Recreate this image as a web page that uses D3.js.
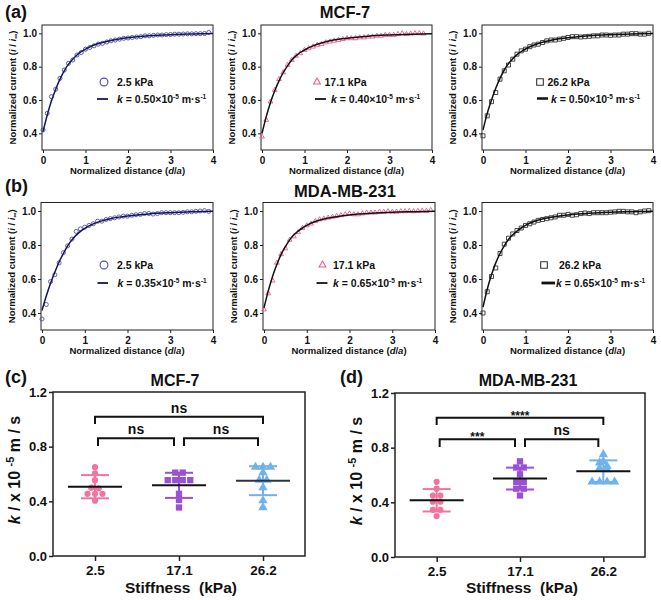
<!DOCTYPE html>
<html><head><meta charset="utf-8">
<script src="https://cdn.jsdelivr.net/npm/d3@7"></script>
<style>body{margin:0;background:#fff}svg{display:block}</style>
</head><body><svg width="661" height="600"></svg>
<script>
// ---------------- DATA ----------------
const distances = [0,0.1,0.2,0.3,0.4,0.5,0.6,0.7,0.8,0.9,1.0,1.1,1.2,1.3,1.4,1.5,1.6,1.7,1.8,1.9,2.0,2.1,2.2,2.3,2.4,2.5,2.6,2.7,2.8,2.9,3.0,3.1,3.2,3.3,3.4,3.5,3.6,3.7,3.8,3.9];
const fitDistances = [0,0.1,0.2,0.3,0.4,0.5,0.6,0.7,0.8,0.9,1.0,1.2,1.4,1.6,1.8,2.0,2.5,3.0,3.5,4.0];

const mcf7_2_5 = [0.42,0.52,0.62,0.665,0.73,0.78,0.82,0.84,0.87,0.885,0.905,0.915,0.925,0.935,0.94,0.948,0.955,0.96,0.965,0.97,0.972,0.975,0.978,0.98,0.985,0.985,0.988,0.99,0.99,0.992,0.993,0.995,0.995,0.996,0.997,0.997,0.998,0.998,0.999,1.005];
const mcf7_17_1 = [0.38,0.48,0.59,0.66,0.725,0.765,0.81,0.84,0.865,0.88,0.9,0.91,0.92,0.93,0.935,0.945,0.95,0.955,0.96,0.965,0.97,0.97,0.97,0.975,0.975,0.98,0.98,0.985,0.985,0.99,0.99,0.99,0.995,1.0,0.995,0.998,1.0,1.0,0.998];
const mcf7_26_2 = [0.385,0.505,0.59,0.645,0.725,0.775,0.81,0.845,0.875,0.895,0.905,0.92,0.93,0.935,0.945,0.955,0.96,0.96,0.965,0.97,0.975,0.98,0.98,0.978,0.98,0.982,0.985,0.985,0.99,0.99,0.988,0.99,0.99,0.995,0.995,0.998,0.998,0.995,0.995,1.0];
const mda_2_5 = [0.365,0.45,0.585,0.625,0.695,0.755,0.795,0.835,0.88,0.895,0.905,0.915,0.925,0.94,0.94,0.95,0.955,0.96,0.965,0.97,0.97,0.975,0.978,0.98,0.985,0.985,0.982,0.985,0.99,0.99,0.99,0.99,0.99,0.992,0.995,0.995,0.998,1.0,1.002,0.998];
const mda_17_1 = [0.42,0.515,0.59,0.695,0.745,0.78,0.83,0.85,0.875,0.9,0.915,0.925,0.94,0.95,0.955,0.96,0.965,0.97,0.975,0.98,0.985,0.98,0.98,0.985,0.99,0.99,0.99,0.995,0.995,0.998,0.995,0.995,0.998,0.998,1.0,0.998,1.0,1.002,1.0,1.005];
const mda_26_2 = [0.40,0.525,0.615,0.665,0.75,0.805,0.84,0.865,0.885,0.9,0.915,0.925,0.935,0.945,0.95,0.955,0.96,0.965,0.975,0.975,0.98,0.975,0.978,0.985,0.988,0.985,0.99,0.99,0.99,0.99,0.993,0.995,0.998,0.998,0.995,0.995,0.99,0.995,1.0,1.002];

const fit_mcf7_2_5 = [0.41,0.51,0.595,0.665,0.725,0.775,0.815,0.845,0.87,0.89,0.905,0.93,0.945,0.957,0.966,0.973,0.985,0.992,0.996,0.999];
const fit_mcf7_17_1 = [0.40,0.50,0.585,0.655,0.715,0.765,0.805,0.84,0.865,0.885,0.90,0.925,0.942,0.955,0.964,0.971,0.983,0.99,0.995,0.998];
const fit_mcf7_26_2 = [0.42,0.52,0.60,0.67,0.73,0.78,0.818,0.848,0.872,0.891,0.906,0.93,0.946,0.958,0.967,0.974,0.986,0.992,0.996,0.999];
const fit_mda_2_5 = [0.415,0.50,0.575,0.64,0.70,0.75,0.795,0.83,0.858,0.88,0.898,0.924,0.942,0.955,0.964,0.971,0.983,0.99,0.995,0.998];
const fit_mda_17_1 = [0.43,0.53,0.615,0.685,0.745,0.79,0.83,0.86,0.882,0.9,0.915,0.938,0.953,0.963,0.971,0.977,0.987,0.993,0.996,0.999];
const fit_mda_26_2 = [0.435,0.54,0.625,0.695,0.75,0.795,0.832,0.86,0.882,0.9,0.915,0.938,0.953,0.963,0.971,0.977,0.987,0.993,0.996,0.999];

const stiffnessLabels = ["2.5","17.1","26.2"];
const kValuesMCF7 = ["0.50","0.40","0.50"];
const kValuesMDA = ["0.35","0.65","0.65"];
const curveTicksY = [0.4,0.6,0.8,1.0];
const curveTicksX = [0,1,2,3,4];
const rateTicks = [0.0,0.4,0.8,1.2];

// panel (c) MCF-7 rate constants
const mcf7Rates = [
  [0.65,0.605,0.555,0.50,0.495,0.455,0.455,0.455,0.405],
  [0.61,0.61,0.555,0.555,0.555,0.555,0.455,0.41,0.355],
  [0.65,0.65,0.65,0.61,0.555,0.555,0.50,0.405,0.355]
];
const mcf7Means = [0.507,0.517,0.551];
const mcf7SD = [0.085,0.092,0.106];
// panel (d) MDA-MB-231 rate constants
const mdaRates = [
  [0.55,0.50,0.45,0.45,0.405,0.405,0.345,0.345,0.30],
  [0.70,0.655,0.655,0.605,0.55,0.55,0.50,0.50,0.45],
  [0.75,0.70,0.69,0.665,0.65,0.64,0.55,0.55,0.55,0.55]
];
const mdaMeans = [0.415,0.574,0.628];
const mdaSD = [0.082,0.08,0.079];
const mcf7Sig = ["ns","ns","ns"];     // 1-2, 2-3, 1-3
const mdaSig = ["***","ns","****"];

// ---------------- DRAWING ----------------
const FONT = "'Liberation Sans', Arial, Helvetica, sans-serif";
const svg = d3.select("svg").attr("font-family", FONT).attr("font-weight","bold");

function styleAxis(g, fs, sw) {
  g.attr("font-family", FONT).attr("font-size", fs).attr("font-weight","bold");
  g.select(".domain").remove();
  g.selectAll(".tick line").attr("stroke","#222").attr("stroke-width",sw);
  g.selectAll(".tick text").attr("fill","#111");
}

function markerPath(type, size) {
  const t = type==="circle"?d3.symbolCircle:type==="triangle"?d3.symbolTriangle:d3.symbolSquare;
  return d3.symbol(t, size)();
}

function addK(g, x, y, val, fs) {
  const t = g.append("text").attr("x",x).attr("y",y).attr("font-size",fs).attr("fill","#111");
  t.append("tspan").attr("font-style","italic").text("k");
  t.append("tspan").text(" = " + val + "×10");
  t.append("tspan").attr("dy",-4).attr("font-size",fs*0.62).text("-5");
  t.append("tspan").attr("dy",4).text(" m·s");
  t.append("tspan").attr("dy",-4).attr("font-size",fs*0.62).text("-1");
}

function curvePanel(c) {
  const g = svg.append("g");
  const x = d3.scaleLinear().domain([0,4]).range([c.left+1, c.right]);
  const y = d3.scaleLinear().domain([0.3,1.05]).range([c.bottom, c.top]);
  const ya = g.append("g").attr("transform",`translate(${c.left},0)`)
    .call(d3.axisLeft(y).tickValues(curveTicksY).tickFormat(d3.format(".1f")).tickSize(3).tickPadding(2));
  styleAxis(ya, 10, 1);
  const xa = g.append("g").attr("transform",`translate(0,${c.bottom})`)
    .call(d3.axisBottom(x).tickValues(curveTicksX).tickFormat(d3.format("d")).tickSize(3).tickPadding(4));
  styleAxis(xa, 10, 1);
  g.append("rect").attr("x",c.left).attr("y",c.top).attr("width",c.right-c.left).attr("height",c.bottom-c.top)
    .attr("fill","none").attr("stroke","#222").attr("stroke-width",1);
  // markers
  const pts = c.values.map((v,i)=>({d:distances[i], v}));
  g.selectAll("path.m").data(pts).join("path").attr("class","m")
    .attr("d", markerPath(c.marker, c.msize))
    .attr("transform", p=>`translate(${x(p.d)},${y(p.v)})`)
    .attr("fill","none").attr("stroke",c.color).attr("stroke-width",0.9);
  // fit
  const line = d3.line().x(p=>x(p.d)).y(p=>y(p.v)).curve(d3.curveMonotoneX);
  g.append("path").datum(c.fit.map((v,i)=>({d:fitDistances[i], v})))
    .attr("d", line).attr("fill","none").attr("stroke",c.lineColor).attr("stroke-width",1.5);
  // legend
  const L = c.legend;
  g.append("path").attr("d", markerPath(c.marker, c.lsize)).attr("transform",`translate(${L.mx},${L.my})`)
    .attr("fill","none").attr("stroke",c.color).attr("stroke-width",1.1);
  g.append("text").attr("x",L.tx).attr("y",L.my+4).attr("font-size",10.5).attr("fill","#111").text(c.label + " kPa");
  g.append("line").attr("x1",L.lx1).attr("x2",L.lx2).attr("y1",L.ly).attr("y2",L.ly)
    .attr("stroke",c.lineColor).attr("stroke-width",L.lw||1.8);
  addK(g, L.kx, L.ly+4, c.k, 10.5);
  // axis titles
  const yt = g.append("text").attr("transform",`translate(${c.left-26},${(c.top+c.bottom)/2}) rotate(-90)`)
    .attr("text-anchor","middle").attr("font-size",9.5).attr("fill","#111");
  yt.append("tspan").text("Normalized current (");
  yt.append("tspan").attr("font-style","italic").text("i");
  yt.append("tspan").text(" / ");
  yt.append("tspan").attr("font-style","italic").text("i");
  yt.append("tspan").attr("dy",2).attr("font-size",7).text("∞");
  yt.append("tspan").attr("dy",-2).text(")");
  const xt = g.append("text").attr("x",(c.left+c.right)/2).attr("y",c.bottom+24)
    .attr("text-anchor","middle").attr("font-size",9.5).attr("fill","#111");
  xt.append("tspan").text("Normalized distance (");
  xt.append("tspan").attr("font-style","italic").text("d");
  xt.append("tspan").text("/");
  xt.append("tspan").attr("font-style","italic").text("a");
  xt.append("tspan").text(")");
}

const rowA = {top:25, bottom:150};
const rowB = {top:202.5, bottom:330};
const markerTypes = ["circle","triangle","square"];
const markerColors = ["#4a4aa6","#ee5a8e","#333333"];
const fitColors = ["#1a1a5a","#111111","#111111"];
const markerSizes = [13,10,16];
const legendSizes = [48,20,44];

const panelsA = [
  {left:42,right:213,values:mcf7_2_5,fit:fit_mcf7_2_5,legend:{mx:104,my:82,tx:117,lx1:97,lx2:108,ly:99,kx:117}},
  {left:261,right:432,values:mcf7_17_1,fit:fit_mcf7_17_1,legend:{mx:317,my:82,tx:324.5,lx1:315,lx2:326,ly:99,kx:331}},
  {left:482,right:653,values:mcf7_26_2,fit:fit_mcf7_26_2,legend:{mx:540,my:82,tx:547.5,lx1:537,lx2:548,ly:98.5,kx:551,lw:2.5}}
];
const panelsB = [
  {left:41,right:213,values:mda_2_5,fit:fit_mda_2_5,legend:{mx:104,my:265,tx:117,lx1:97.5,lx2:108,ly:283,kx:117.5}},
  {left:263,right:435,values:mda_17_1,fit:fit_mda_17_1,legend:{mx:322.5,my:265,tx:333,lx1:316.5,lx2:327.5,ly:283,kx:333}},
  {left:482,right:653,values:mda_26_2,fit:fit_mda_26_2,legend:{mx:544,my:265,tx:559,lx1:541.5,lx2:555,ly:283,kx:556,lw:2.8}}
];
panelsA.forEach((p,i)=>curvePanel(Object.assign({}, p, rowA, {marker:markerTypes[i], color:markerColors[i], lineColor:fitColors[i], msize:markerSizes[i], lsize:legendSizes[i], label:stiffnessLabels[i], k:kValuesMCF7[i]})));
panelsB.forEach((p,i)=>curvePanel(Object.assign({}, p, rowB, {marker:markerTypes[i], color:i===0?"#5050b4":markerColors[i], lineColor:i===0?"#14145a":fitColors[i], msize:markerSizes[i], lsize:legendSizes[i], label:stiffnessLabels[i], k:kValuesMDA[i]})));

// titles / panel letters
svg.append("text").attr("x",5).attr("y",18).attr("font-size",18).attr("fill","#111").text("(a)");
svg.append("text").attr("x",5).attr("y",192).attr("font-size",18).attr("fill","#111").text("(b)");
svg.append("text").attr("x",345).attr("y",18).attr("text-anchor","middle").attr("font-size",16.5).attr("fill","#111").text("MCF-7");
svg.append("text").attr("x",345).attr("y",197).attr("text-anchor","middle").attr("font-size",16.5).attr("fill","#111").text("MDA-MB-231");

// ---------------- scatter panels ----------------
const groupColors = ["#f2739b","#9b51d4","#70b2ec"];
const groupMarkers = ["circle","square","triangle"];
const groupSizes = [30,40,38];

function swarm(vals, y, cx, step) {
  const rows = d3.groups(vals.map(v=>({v, py:y(v)})), p=>Math.round(p.py/5));
  const out = [];
  rows.forEach(([,pts])=>{
    const n = pts.length;
    pts.forEach((p,i)=>out.push({v:p.v, px: cx + (i-(n-1)/2)*step, py:p.py}));
  });
  return out;
}

function scatterPanel(c) {
  const g = svg.append("g");
  const x = d3.scalePoint().domain(stiffnessLabels).range([c.left, c.right]).padding(0.5);
  const y = d3.scaleLinear().domain([0,1.2]).range([c.bottom, c.top]);
  const ya = g.append("g").attr("transform",`translate(${c.left},0)`)
    .call(d3.axisLeft(y).tickValues(rateTicks).tickFormat(d3.format(".1f")).tickSize(4).tickPadding(2));
  styleAxis(ya, 13, 1.5);
  const xa = g.append("g").attr("transform",`translate(0,${c.bottom})`)
    .call(d3.axisBottom(x).tickSize(5).tickPadding(4));
  styleAxis(xa, 13.5, 1.5);
  g.append("rect").attr("x",c.left).attr("y",c.top).attr("width",c.right-c.left).attr("height",c.bottom-c.top)
    .attr("fill","none").attr("stroke","#222").attr("stroke-width",1.5);

  stiffnessLabels.forEach((lab,i)=>{
    const cx = x(lab);
    const pts = swarm(c.rates[i], y, cx, 7.5);
    g.selectAll(null).data(pts).join("path")
      .attr("d", markerPath(groupMarkers[i], groupSizes[i]))
      .attr("transform", p=>`translate(${p.px},${p.py})`)
      .attr("fill", groupColors[i]);
    const m = c.means[i], s = c.sd[i];
    const eb = g.append("g").attr("stroke",groupColors[i]).attr("stroke-width",2);
    eb.append("line").attr("x1",cx).attr("x2",cx).attr("y1",y(m-s)).attr("y2",y(m+s));
    eb.append("line").attr("x1",cx-14).attr("x2",cx+14).attr("y1",y(m+s)).attr("y2",y(m+s));
    eb.append("line").attr("x1",cx-14).attr("x2",cx+14).attr("y1",y(m-s)).attr("y2",y(m-s));
    g.append("line").attr("x1",cx-27).attr("x2",cx+27).attr("y1",y(m)).attr("y2",y(m))
      .attr("stroke", i===2 && c.darkThird ? "#2b3440" : "#111").attr("stroke-width",2);
  });

  // significance brackets
  const br = [
    {a:0,b:1,top:0.862,leg:0.805,x1off:3,x2off:-5,lab:c.sig[0]},
    {a:1,b:2,top:0.862,leg:0.805,x1off:5,x2off:-5,lab:c.sig[1]},
    {a:0,b:2,top:1.018,leg:0.965,x1off:0,x2off:0,lab:c.sig[2]}
  ];
  br.forEach(b=>{
    const x1 = x(stiffnessLabels[b.a])+b.x1off, x2 = x(stiffnessLabels[b.b])+b.x2off;
    g.append("path").attr("d", d3.line()([[x1,y(b.leg)],[x1,y(b.top)],[x2,y(b.top)],[x2,y(b.leg)]]))
      .attr("fill","none").attr("stroke","#111").attr("stroke-width",2);
    const star = b.lab.indexOf("*")>=0;
    g.append("text").attr("x",(x1+x2)/2).attr("y", star? y(b.top)+2 : y(b.top)-4)
      .attr("text-anchor","middle").attr("font-size", star?12:14).attr("fill","#111").text(b.lab);
  });

  // axis titles
  const yt = g.append("text").attr("transform",`translate(${c.left-33},${(c.top+c.bottom)/2-4}) rotate(-90)`)
    .attr("text-anchor","middle").attr("font-size",16).attr("fill","#111");
  yt.append("tspan").attr("font-style","italic").text("k");
  yt.append("tspan").text(" / x 10 ");
  yt.append("tspan").attr("dy",-6).attr("font-size",11).text("-5");
  yt.append("tspan").attr("dy",6).text(" m / s");
  g.append("text").attr("x",(c.left+c.right)/2+2).attr("y",593).attr("text-anchor","middle")
    .attr("font-size",15.5).attr("fill","#111").text("Stiffness\u00a0\u00a0(kPa)");
  g.append("text").attr("x",c.titleX).attr("y",386).attr("text-anchor","middle").attr("font-size",16).attr("fill","#111").text(c.title);
  g.append("text").attr("x",c.letterX).attr("y",383).attr("font-size",18).attr("fill","#111").text(c.letter);
}

scatterPanel({left:53,right:305,top:392,bottom:556,rates:mcf7Rates,means:mcf7Means,sd:mcf7SD,sig:mcf7Sig,title:"MCF-7",titleX:175,letter:"(c)",letterX:5,darkThird:true});
scatterPanel({left:395,right:645,top:393,bottom:557,rates:mdaRates,means:mdaMeans,sd:mdaSD,sig:mdaSig,title:"MDA-MB-231",titleX:528,letter:"(d)",letterX:340,darkThird:false});
</script>
</body></html>
